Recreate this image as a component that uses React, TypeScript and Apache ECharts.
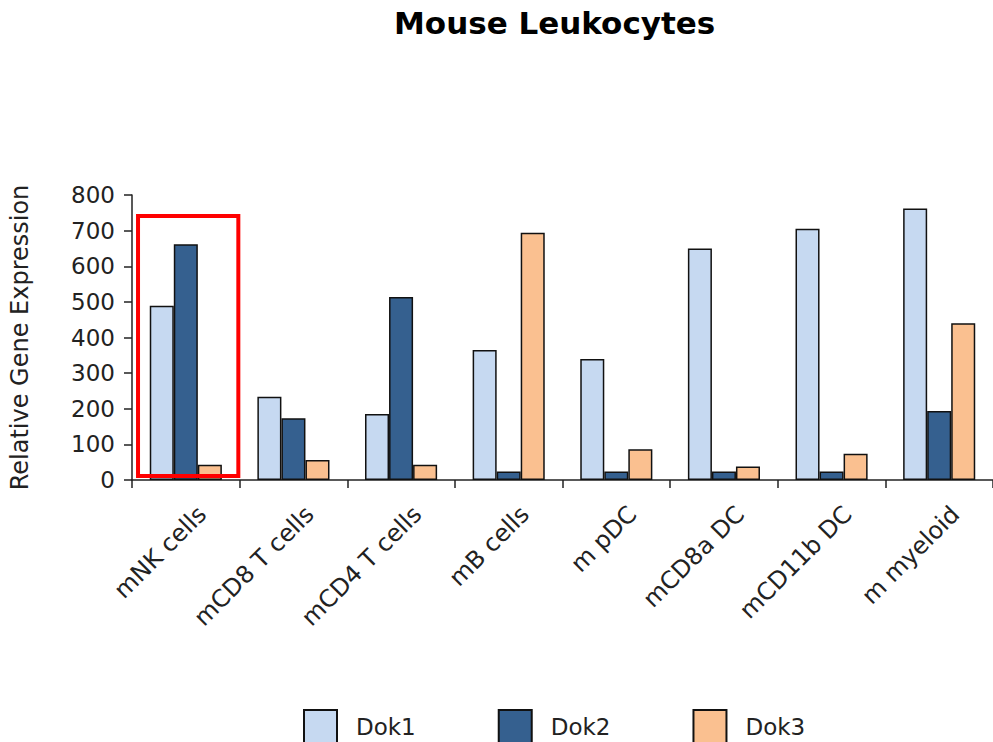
import React, { useEffect, useRef } from "react";
import * as echarts from "echarts";

const chartTitle = "Mouse Leukocytes";
const yAxisName = "Relative Gene Expression";
const categories = [
  "mNK cells",
  "mCD8 T cells",
  "mCD4 T cells",
  "mB cells",
  "m pDC",
  "mCD8a DC",
  "mCD11b DC",
  "m myeloid",
];
const seriesNames = ["Dok1", "Dok2", "Dok3"];
const dok1 = [489, 234, 185, 365, 340, 650, 705, 762];
const dok2 = [662, 173, 514, 24, 24, 24, 24, 194];
const dok3 = [43, 56, 43, 694, 86, 38, 74, 440];
const yMin = 0;
const yMax = 800;
const yInterval = 100;
const highlightCategory = "mNK cells";
const highlightLow = 11;
const highlightHigh = 741;

const colors = ["#C6D9F1", "#35608F", "#FAC090"];
const FONT = "DejaVu Sans";

export default function App() {
  const ref = useRef<HTMLDivElement>(null);
  useEffect(() => {
    document.body.style.margin = "0";
    document.body.style.overflow = "hidden";
    const chart = echarts.init(ref.current!, null, { renderer: "svg" });
    const seriesData = [dok1, dok2, dok3];
    chart.setOption({
      animation: false,
      backgroundColor: "#ffffff",
      title: {
        text: chartTitle,
        left: 394,
        top: 7,
        padding: 0,
        textStyle: {
          fontFamily: FONT,
          fontWeight: "bold",
          fontSize: 31,
          color: "#000",
        },
      },
      legend: {
        data: seriesNames,
        left: 303,
        top: 709,
        padding: 0,
        itemWidth: 33,
        itemHeight: 33,
        itemGap: 82,
        icon: "rect",
        textStyle: {
          fontFamily: FONT,
          fontSize: 23,
          color: "#222",
          padding: [0, 0, 0, 14],
        },
      },
      grid: {
        left: 130,
        right: -6,
        top: 195,
        bottom: 262,
        containLabel: false,
      },
      xAxis: {
        type: "category",
        data: categories,
        axisLine: { lineStyle: { color: "#222", width: 1.5 } },
        axisTick: {
          show: true,
          length: 8,
          alignWithLabel: false,
          lineStyle: { color: "#222", width: 1.5 },
        },
        axisLabel: {
          interval: 0,
          rotate: 45,
          margin: 14,
          verticalAlign: "top",
          lineHeight: 46,
          fontFamily: FONT,
          fontSize: 24,
          color: "#222",
        },
        splitLine: { show: false },
      },
      yAxis: {
        type: "value",
        min: yMin,
        max: yMax,
        interval: yInterval,
        name: yAxisName,
        nameLocation: "middle",
        nameRotate: 90,
        nameGap: 100,
        nameTextStyle: { fontFamily: FONT, fontSize: 24, color: "#222" },
        axisLine: { show: true, lineStyle: { color: "#222", width: 1.5 } },
        axisTick: {
          show: true,
          length: 8,
          lineStyle: { color: "#222", width: 1.5 },
        },
        axisLabel: {
          margin: 17,
          fontFamily: FONT,
          fontSize: 23,
          color: "#222",
        },
        splitLine: { show: false },
      },
      series: seriesNames.map((name, i) => ({
        name,
        type: "bar",
        data: seriesData[i],
        barGap: "0%",
        barCategoryGap: "33%",
        itemStyle: {
          color: colors[i],
          borderColor: "#111",
          borderWidth: 1.5,
        },
      })),
    });

    const cx = chart.convertToPixel({ xAxisIndex: 0 }, highlightCategory) as number;
    const idx = categories.indexOf(highlightCategory);
    const other = categories[idx + 1];
    const band = (chart.convertToPixel({ xAxisIndex: 0 }, other) as number) - cx;
    const yTop = chart.convertToPixel({ yAxisIndex: 0 }, highlightHigh) as number;
    const yBot = chart.convertToPixel({ yAxisIndex: 0 }, highlightLow) as number;
    chart.setOption({
      graphic: [
        {
          type: "rect",
          z: 100,
          shape: {
            x: cx - band * 0.444,
            y: yTop,
            width: band * 0.932,
            height: yBot - yTop,
          },
          style: { fill: "none", stroke: "#FF0000", lineWidth: 4 },
        },
      ],
    });

    return () => chart.dispose();
  }, []);
  return <div ref={ref} style={{ width: 993, height: 742 }} />;
}
